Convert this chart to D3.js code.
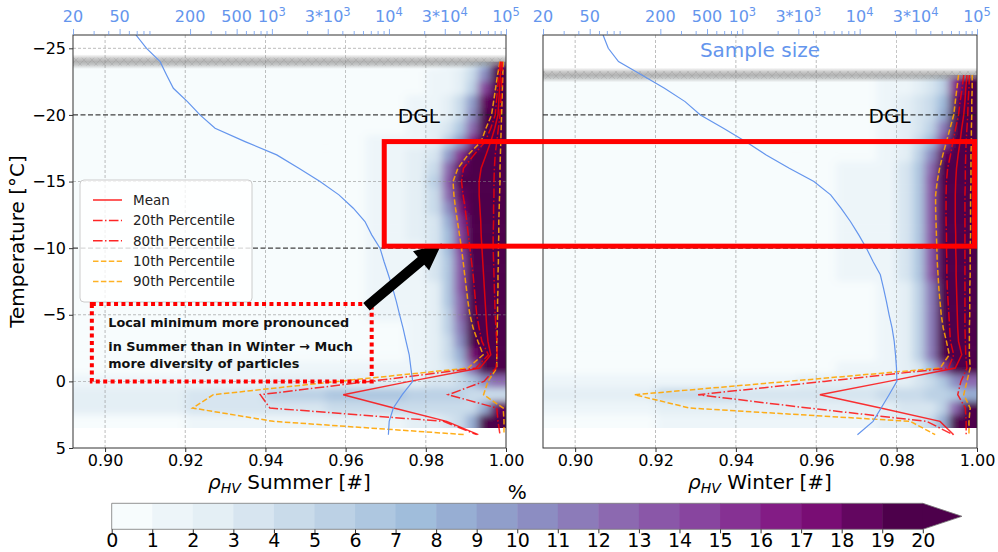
<!DOCTYPE html>
<html><head><meta charset="utf-8">
<script src="https://cdn.jsdelivr.net/npm/d3@7"></script>
<style>body{margin:0;background:#fff}svg{display:block}text{font-family:"DejaVu Sans",sans-serif}</style>
</head><body><svg id="c" width="998" height="552"></svg>
<script>
// ---------------- DATA ----------------
const summerT = [-24,-23,-22,-21,-20,-19,-18,-17,-16,-15,-14,-13,-12,-11,-10,-9,-8,-7,-6,-5,-4,-3,-2,-1,0,1,2,3,4];
const summerMean = [0.9988,0.9986,0.9984,0.9982,0.998,0.9972,0.9962,0.995,0.9938,0.9933,0.9933,0.9935,0.9937,0.9938,0.994,0.9942,0.9944,0.9946,0.9948,0.995,0.9952,0.9955,0.9962,0.9935,0.976,0.9594,0.972,0.9852,0.9931];
const summerP20 = [0.9986,0.9982,0.9979,0.9976,0.9973,0.9962,0.9948,0.992,0.9894,0.9889,0.9893,0.9898,0.9902,0.9906,0.991,0.9914,0.9918,0.9921,0.9924,0.9927,0.9933,0.994,0.9956,0.9925,0.966,0.9387,0.9411,0.9844,0.9927];
const summerP80 = [0.9991,0.999,0.9989,0.9987,0.9985,0.9981,0.9977,0.9973,0.9971,0.997,0.997,0.9969,0.9969,0.9968,0.9968,0.9969,0.997,0.9971,0.9972,0.9973,0.9975,0.9977,0.9978,0.9975,0.9945,0.9856,0.9977,0.998,0.9985];
const summerP10 = [0.9985,0.9979,0.9974,0.9969,0.9964,0.995,0.9938,0.9905,0.988,0.9868,0.987,0.9874,0.9879,0.9884,0.9889,0.9893,0.9897,0.9901,0.9905,0.991,0.9918,0.993,0.9943,0.9905,0.958,0.927,0.9218,0.942,0.990];
const summerP90 = [0.9993,0.9992,0.9991,0.999,0.9989,0.9988,0.9987,0.9986,0.9985,0.9985,0.9984,0.9983,0.9982,0.9982,0.9981,0.9981,0.998,0.998,0.9979,0.9979,0.9978,0.9977,0.9977,0.9977,0.9955,0.9944,0.9993,0.9995,0.9995];

const winterT = [-23,-22,-21,-20,-19,-18,-17,-16,-15,-14,-13,-12,-11,-10,-9,-8,-7,-6,-5,-4,-3,-2,-1,0,1,2,3,4];
const winterMean = [0.9975,0.9972,0.997,0.9967,0.9962,0.9958,0.9953,0.9949,0.9947,0.9946,0.9946,0.9946,0.9947,0.9947,0.9948,0.9948,0.9949,0.995,0.9951,0.9952,0.9954,0.9962,0.9946,0.978,0.9609,0.976,0.9908,0.9942];
const winterP20 = [0.9967,0.9963,0.9958,0.9954,0.9947,0.994,0.9934,0.9927,0.9924,0.9923,0.9923,0.9923,0.9924,0.9924,0.9925,0.9925,0.9926,0.9928,0.993,0.9932,0.9934,0.9942,0.9929,0.962,0.9306,0.958,0.9875,0.994];
const winterP80 = [0.9981,0.998,0.9978,0.9977,0.9975,0.9973,0.9972,0.9971,0.9971,0.997,0.997,0.997,0.997,0.997,0.997,0.997,0.997,0.997,0.997,0.997,0.9971,0.9972,0.9975,0.996,0.9952,0.9971,0.9973,0.9973];
const winterP10 = [0.9954,0.995,0.9946,0.9942,0.9933,0.9924,0.9915,0.9907,0.9901,0.9897,0.9897,0.9898,0.9899,0.99,0.9901,0.9903,0.9905,0.9908,0.9911,0.9916,0.9924,0.9931,0.9908,0.953,0.9148,0.9285,0.9834,0.9896];
const winterP90 = [0.9988,0.9988,0.9987,0.9987,0.9986,0.9986,0.9985,0.9985,0.9985,0.9984,0.9984,0.9984,0.9984,0.9983,0.9983,0.9983,0.9982,0.9982,0.9982,0.9981,0.9981,0.9981,0.9983,0.9975,0.9967,0.9983,0.998,0.998];

const sampleT = [-26,-25,-24,-23,-22,-21,-20,-19,-18,-17,-16,-15,-14,-13,-12,-11,-10,-9,-8,-7,-6,-5,-4,-3,-2,-1,0,1,2,3,4];
const summerN = [69,85,111,126,144,190,243,327,590,1100,1700,2578,3740,4960,6240,7125,8390,9075,9890,10750,11560,12340,13200,14000,14900,15400,15960,13000,10900,10050,9890];
const winterN = [65,72,88,139,217,325,439,690,1064,1597,2512,4075,5660,6930,8340,9820,11420,13000,15000,15960,16900,17820,18900,19700,20200,20600,20740,17820,15240,13000,9570];

// 2D histogram (% per cell): rows = temperature bins, columns = rhoHV bins
const rhoEdges = [0.892,0.92,0.94,0.955,0.965,0.975,0.98,0.984,0.987,0.99,0.993,0.996,1.0];
const summerHeatT = [-24,-23,-22,-21,-20,-19,-18,-17,-16,-15,-14,-13,-12,-11,-10,-9,-8,-7,-6,-5,-4,-3,-2,-1,0,1,2,3];
const summerHeat = [
 [0.5,0.5,0.5,0.5,0.5,0.5,0.8,1,1.5,3,7,18],
 [0.5,0.5,0.5,0.5,0.5,0.7,1,1.5,2,4,10,20],
 [0.5,0.5,0.5,0.5,0.5,0.8,1.2,1.8,2.5,5,14,22],
 [0.5,0.5,0.5,0.5,0.7,1,1.5,2.5,4,9,18,24],
 [0.5,0.5,0.5,0.5,0.7,1,1.5,2.5,4.5,10,20,25],
 [0.5,0.5,0.5,0.5,0.8,1.2,2,3,6,12,21,25],
 [0.5,0.5,0.5,0.6,1,1.5,2.5,5,9,16,22,24],
 [0.5,0.5,0.5,0.7,1.2,2,3.5,9,15,20,22,22],
 [0.5,0.5,0.6,0.8,1.5,2.5,4.5,12,18,21,22,22],
 [0.5,0.5,0.6,0.8,1.5,2.5,5,13,19,21,22,22],
 [0.5,0.5,0.6,0.8,1.5,2.5,4.5,12,18,21,22,22],
 [0.5,0.5,0.5,0.7,1.2,2.2,4,10,17,21,23,22],
 [0.5,0.5,0.5,0.7,1.2,2,3.5,8,15,21,24,22],
 [0.5,0.5,0.5,0.6,1,2,3.5,7,14,21,24,22],
 [0.5,0.5,0.5,0.6,1,1.8,3,7,14,21,24,22],
 [0.5,0.5,0.5,0.6,1,1.8,3,6.5,13,21,24,22],
 [0.5,0.5,0.5,0.6,1,1.8,3,6.5,13,21,24,22],
 [0.5,0.5,0.5,0.6,1,1.6,2.8,6,13,21,24,23],
 [0.5,0.5,0.5,0.6,1,1.6,2.8,6,12,21,24,23],
 [0.5,0.5,0.5,0.6,1,1.5,2.5,5.5,12,21,25,23],
 [0.5,0.5,0.5,0.6,0.9,1.5,2.5,5,11,20,25,24],
 [0.5,0.5,0.5,0.6,0.9,1.4,2.2,4.5,10,19,25,25],
 [0.5,0.5,0.5,0.6,0.9,1.3,2,4,8,17,25,26],
 [0.8,1,1,1.2,1.4,1.8,2.2,3.5,6,12,22,26],
 [1,1.5,2,2,2.5,2.5,3,3.5,4,6,10,12],
 [2.5,3.5,5,6,6,5.5,5,5,5,4.5,4,4],
 [2,3,3.5,4,4,4,4,4,4,4.5,8,18],
 [0.5,1,1,1.5,1.5,2,2.5,3,4,8,20,28]
];
const winterHeatT = [-23,-22,-21,-20,-19,-18,-17,-16,-15,-14,-13,-12,-11,-10,-9,-8,-7,-6,-5,-4,-3,-2,-1,0,1,2,3];
const winterHeat = [
 [0.5,0.5,0.5,0.5,0.6,1,1.5,2.5,3.5,5,15,24],
 [0.5,0.5,0.5,0.5,0.6,1,1.5,2.5,3.5,5,16,25],
 [0.5,0.5,0.5,0.5,0.7,1.2,2,3,4,7,18,25],
 [0.5,0.5,0.5,0.5,0.7,1.2,2,3,4.5,8,20,25],
 [0.5,0.5,0.5,0.5,0.8,1.4,2.2,3.5,5.5,11,22,24],
 [0.5,0.5,0.5,0.5,0.8,1.5,2.5,4,7,14,23,23],
 [0.5,0.5,0.5,0.5,0.9,1.6,2.8,5,10,18,24,22],
 [0.5,0.5,0.5,0.5,1,1.8,3,6,12,20,25,22],
 [0.5,0.5,0.5,0.5,1,1.8,3,6,13,21,25,22],
 [0.5,0.5,0.5,0.5,1,1.8,3,6,13,21,25,22],
 [0.5,0.5,0.5,0.5,1,1.8,3,6,13,21,25,22],
 [0.5,0.5,0.5,0.5,1,1.8,3,6,13,21,25,22],
 [0.5,0.5,0.5,0.5,1,1.8,3,6,13,21,25,22],
 [0.5,0.5,0.5,0.5,1,1.8,3,6,13,21,25,22],
 [0.5,0.5,0.5,0.5,1,1.8,3,6,13,21,25,22],
 [0.5,0.5,0.5,0.5,1,1.8,3,6,13,21,25,22],
 [0.5,0.5,0.5,0.5,0.9,1.6,2.6,5,11,20,25,22],
 [0.5,0.5,0.5,0.5,0.9,1.6,2.6,5,11,20,25,22],
 [0.5,0.5,0.5,0.5,0.9,1.6,2.6,5,11,20,25,22],
 [0.5,0.5,0.5,0.5,0.9,1.6,2.6,5,11,20,25,22],
 [0.5,0.5,0.5,0.5,0.9,1.6,2.6,5,11,20,25,22],
 [0.5,0.5,0.5,0.5,0.9,1.6,2.6,5,11,20,25,22],
 [0.5,0.6,0.8,0.9,1.1,1.5,2.2,3.5,7,14,24,25],
 [1,1.5,1.5,2,2,2.5,2.5,3,4,6,10,12],
 [2.5,4,3.5,3.5,3.5,4,4,4.5,5,5.5,6,8],
 [1,2,2,2,2,2.5,3,3,3.5,5,12,20],
 [0.5,1,1,1.5,1.5,2,2.5,3,4,8,22,28]
];

const rhoTicks = [0.90,0.92,0.94,0.96,0.98,1.00];
const tempTicks = [-25,-20,-15,-10,-5,0,5];
const nMajor = [20,50,200,500,1000,3000,10000,30000,100000];
const nMajorBase = ["20","50","200","500","10","3*10","10","3*10","10"];
const nMajorSup = ["","","","","3","3","4","4","5"];
const nMinor = [30,40,60,70,80,90,300,400,600,700,800,900,2000,4000,5000,6000,7000,8000,9000,20000,40000,50000,60000,70000,80000,90000];
const cbTicks = [0,1,2,3,4,5,6,7,8,9,10,11,12,13,14,15,16,17,18,19,20];
const dglTemps = [-20,-10];
const legendLabels = ["Mean","20th Percentile","80th Percentile","10th Percentile","90th Percentile"];
const noteLines = ["Local minimum more pronounced","in Summer than in Winter \u2192 Much","more diversity of particles"];

// ---------------- SETUP ----------------
const svg = d3.select("#c");
svg.append("rect").attr("width",998).attr("height",552).attr("fill","#fff");
const defs = svg.append("defs");
defs.append("filter").attr("id","blur").attr("x","-5%").attr("y","-5%").attr("width","110%").attr("height","110%")
  .append("feGaussianBlur").attr("stdDeviation","4.5 3.5");
const grad = defs.append("linearGradient").attr("id","band").attr("x1",0).attr("y1",0).attr("x2",0).attr("y2",1);
[[0,0],[0.3,0.55],[0.5,0.75],[0.7,0.55],[1,0]].forEach(s=>grad.append("stop").attr("offset",s[0]).attr("stop-color","#9a9a9a").attr("stop-opacity",s[1]));
const hatch = defs.append("pattern").attr("id","hatch").attr("width",8).attr("height",8).attr("patternUnits","userSpaceOnUse");
hatch.append("path").attr("d","M0,0L8,8M8,0L0,8").attr("stroke","#888").attr("stroke-width",0.7);

const bupu = ["#f7fcfd","#e0ecf4","#bfd3e6","#9ebcda","#8c96c6","#8c6bb1","#88419d","#810f7c","#4d004b"];
const cmap = d3.piecewise(d3.interpolateRgb, bupu);
const colorOf = v => v >= 20 ? cmap(1) : cmap(Math.max(0, Math.floor(v)) / 19);

const y = d3.scaleLinear().domain([-26,5]).range([35,448]);
const RED = "#ff0000", ORANGE = "#ffa500", BLUE = "cornflowerblue";
const styles = {
  mean:{c:RED,d:null}, p20:{c:RED,d:"9.6,2.4,1.5,2.4"}, p80:{c:RED,d:"9.6,2.4,1.5,2.4"},
  p10:{c:ORANGE,d:"5.5,2.4"}, p90:{c:ORANGE,d:"5.5,2.4"}
};

const panels = [
  {x0:73,x1:506,name:"Summer",T:summerT,mean:summerMean,p20:summerP20,p80:summerP80,p10:summerP10,p90:summerP90,heatT:summerHeatT,heat:summerHeat,n:summerN,top:-24,hgrid:true},
  {x0:543,x1:977,name:"Winter",T:winterT,mean:winterMean,p20:winterP20,p80:winterP80,p10:winterP10,p90:winterP90,heatT:winterHeatT,heat:winterHeat,n:winterN,top:-23,hgrid:false}
];

panels.forEach((p,i)=>{
  const x = d3.scaleLinear().domain([0.892,1.0]).range([p.x0,p.x1]);
  const xn = d3.scaleLog().domain([20,1e5]).range([p.x0,p.x1]);
  p.x = x;
  const g = svg.append("g");
  defs.append("clipPath").attr("id","pc"+i).append("rect")
    .attr("x",p.x0).attr("y",y(-26)).attr("width",p.x1-p.x0).attr("height",y(5)-y(-26));
  defs.append("clipPath").attr("id","hc"+i).append("rect")
    .attr("x",p.x0).attr("y",y(p.top)).attr("width",p.x1-p.x0).attr("height",y(3.5)-y(p.top));
  // heatmap
  const hg = g.append("g").attr("clip-path",`url(#hc${i})`).append("g").attr("filter","url(#blur)");
  const nc = rhoEdges.length-1;
  p.heatT.forEach((t,r)=>{
    p.heat[r].forEach((v,c)=>{
      let xa = x(rhoEdges[c]), xb = x(rhoEdges[c+1]);
      if(c===0) xa -= 20; if(c===nc-1) xb += 20;
      let ya = y(t-0.5), yb = y(t+0.5);
      if(r===0) ya -= 20; if(r===p.heatT.length-1) yb += 20;
      hg.append("rect").attr("x",xa).attr("y",ya).attr("width",xb-xa+0.6).attr("height",yb-ya+0.6).attr("fill",colorOf(v));
    });
  });
  // grey band at top of data
  const bg = g.append("g").attr("clip-path",`url(#pc${i})`);
  bg.append("rect").attr("x",p.x0).attr("width",p.x1-p.x0).attr("y",y(p.top-0.55)).attr("height",y(p.top+0.55)-y(p.top-0.55)).attr("fill","url(#band)");
  bg.append("rect").attr("x",p.x0).attr("width",p.x1-p.x0).attr("y",y(p.top-0.3)).attr("height",y(p.top+0.3)-y(p.top-0.3)).attr("fill","url(#hatch)").attr("opacity",0.35);
  // grid
  const gg = g.append("g");
  rhoTicks.slice(0,5).forEach(v=>gg.append("line").attr("x1",x(v)).attr("x2",x(v)).attr("y1",y(-26)).attr("y2",y(5))
    .attr("stroke","#888").attr("stroke-width",0.7).attr("stroke-dasharray","3,2").attr("opacity",0.8));
  if(p.hgrid) [-25,-15,-5,0].forEach(v=>gg.append("line").attr("x1",p.x0).attr("x2",p.x1).attr("y1",y(v)).attr("y2",y(v))
    .attr("stroke","#888").attr("stroke-width",0.7).attr("stroke-dasharray","3,2").attr("opacity",0.8));
  dglTemps.forEach(v=>gg.append("line").attr("x1",p.x0).attr("x2",p.x1).attr("y1",y(v)).attr("y2",y(v))
    .attr("stroke","#222").attr("stroke-width",1.2).attr("stroke-dasharray","5,2.5").attr("opacity",0.85));
  g.append("text").attr("x",x(0.973)).attr("y",y(-20)+8).attr("font-size",20).attr("fill","#000").text("DGL");
  // percentile lines
  const lg = g.append("g").attr("clip-path",`url(#pc${i})`);
  ["p10","p90","p20","p80","mean"].forEach(k=>{
    const line = d3.line().x(d=>x(d[1])).y(d=>y(d[0]));
    lg.append("path").attr("d",line(p.T.map((t,j)=>[t,p[k][j]])))
      .attr("fill","none").attr("stroke",styles[k].c).attr("stroke-width",1.5)
      .attr("stroke-dasharray",styles[k].d).attr("opacity",k.startsWith("p1")||k.startsWith("p9")?0.9:0.8);
  });
  // sample size
  const nl = d3.line().x(d=>xn(d[1])).y(d=>y(d[0]));
  lg.append("path").attr("d",nl(sampleT.map((t,j)=>[t,p.n[j]]))).attr("fill","none").attr("stroke",BLUE).attr("stroke-width",1.2);
  // frame
  g.append("rect").attr("x",p.x0).attr("y",y(-26)).attr("width",p.x1-p.x0).attr("height",y(5)-y(-26))
    .attr("fill","none").attr("stroke","#333").attr("stroke-width",1);
  // bottom axis
  const ba = g.append("g").attr("transform",`translate(0,${y(5)})`)
    .call(d3.axisBottom(x).tickValues(rhoTicks).tickSize(4).tickPadding(3).tickFormat(d3.format(".2f")));
  ba.select(".domain").remove();
  ba.selectAll("text").attr("font-size",16).attr("font-family","DejaVu Sans").attr("fill","#000");
  ba.selectAll("line").attr("stroke","#333");
  // top axis (sample size, log)
  const ta = g.append("g").attr("transform",`translate(0,${y(-26)})`)
    .call(d3.axisTop(xn).tickValues(nMajor).tickSize(6).tickFormat(""));
  const tm = g.append("g").attr("transform",`translate(0,${y(-26)})`)
    .call(d3.axisTop(xn).tickValues(nMinor).tickSize(4).tickFormat(""));
  [ta,tm].forEach(a=>{a.select(".domain").remove(); a.selectAll("line").attr("stroke",BLUE).attr("opacity",0.75);});
  nMajor.forEach((v,j)=>{
    const t = g.append("text").attr("x",xn(v)).attr("y",22).attr("text-anchor","middle").attr("font-size",16).attr("fill",BLUE);
    t.append("tspan").text(nMajorBase[j]);
    if(nMajorSup[j]) t.append("tspan").attr("font-size",11.5).attr("dy",-6.5).text(nMajorSup[j]);
  });
  // x title
  const xt = g.append("text").attr("x",(p.x0+p.x1)/2).attr("y",489).attr("text-anchor","middle").attr("font-size",20).attr("fill","#000");
  xt.append("tspan").attr("font-style","italic").text("\u03C1");
  xt.append("tspan").attr("font-style","italic").attr("font-size",14).attr("dy",4).text("HV");
  xt.append("tspan").attr("dy",-4).text(" "+p.name+" [#]");
});

// left axis
const la = svg.append("g").attr("transform",`translate(${panels[0].x0},0)`)
  .call(d3.axisLeft(y).tickValues(tempTicks).tickSize(4).tickPadding(3));
la.select(".domain").remove();
la.selectAll("text").attr("font-size",16).attr("font-family","DejaVu Sans").attr("fill","#000");
la.selectAll("line").attr("stroke","#333");
svg.append("text").attr("transform",`translate(24,${(y(-26)+y(5))/2}) rotate(-90)`).attr("text-anchor","middle")
  .attr("font-size",20).text("Temperature [\u00B0C]");

// "Sample size"
svg.append("text").attr("x",(panels[1].x0+panels[1].x1)/2).attr("y",57).attr("text-anchor","middle")
  .attr("font-size",20).attr("fill",BLUE).text("Sample size");

// legend
const xL = panels[0].x, xR = panels[1].x;
const leg = svg.append("g");
leg.append("rect").attr("x",80).attr("y",180).attr("width",172).attr("height",122).attr("rx",4)
  .attr("fill","#fff").attr("fill-opacity",0.8).attr("stroke","#ccc");
["mean","p20","p80","p10","p90"].forEach((k,j)=>{
  const cy = 200 + j*20.4;
  leg.append("line").attr("x1",93).attr("x2",122).attr("y1",cy).attr("y2",cy)
    .attr("stroke",styles[k].c).attr("stroke-width",1.5).attr("stroke-dasharray",styles[k].d).attr("opacity",0.85);
  leg.append("text").attr("x",133).attr("y",cy+4.8).attr("font-size",13.5).attr("fill","#222").text(legendLabels[j]);
});

// annotation box
svg.append("rect").attr("x",xL(0.8967)).attr("y",y(-5.8)).attr("width",xL(0.9665)-xL(0.8967)).attr("height",y(0)-y(-5.8))
  .attr("fill","none").attr("stroke",RED).attr("stroke-width",4).attr("stroke-dasharray","4,3.4");
[-4.1,-2.3,-0.98].forEach((t,j)=>{
  svg.append("text").attr("x",xL(0.9008)).attr("y",y(t)).attr("font-family","Liberation Sans, Arial, sans-serif")
    .attr("font-weight","bold").attr("font-size",12.8).attr("fill","#111").text(noteLines[j]);
});

// arrow
(function(){
  const tx = xL(0.9652), ty = y(-5.6), hx = xL(0.98397), hy = y(-10.35);
  const dx = hx-tx, dy = hy-ty, L = Math.hypot(dx,dy), ux = dx/L, uy = dy/L, nx = -uy, ny = ux;
  const hl = 27, hh = 12.5, sh = 5;
  const bx = tx+ux*(L-hl), by = ty+uy*(L-hl);
  const pts = [[tx+nx*sh,ty+ny*sh],[bx+nx*sh,by+ny*sh],[bx+nx*hh,by+ny*hh],[hx,hy],[bx-nx*hh,by-ny*hh],[bx-nx*sh,by-ny*sh],[tx-nx*sh,ty-ny*sh]];
  svg.append("polygon").attr("points",pts.map(p=>p.join(",")).join(" ")).attr("fill","#000");
})();

// red highlight rectangle
svg.append("rect").attr("x",xL(0.96963)).attr("y",y(-18)).attr("width",xR(0.99938)-xL(0.96963)).attr("height",y(-10.15)-y(-18))
  .attr("fill","none").attr("stroke",RED).attr("stroke-width",5);

// colorbar
const cbX = d3.scaleLinear().domain([0,20]).range([111.7,922.8]);
const cbTop = 503.3, cbBot = 529.3, cbTip = 962;
const cb = svg.append("g");
cbTicks.slice(0,20).forEach(v=>cb.append("rect").attr("x",cbX(v)).attr("y",cbTop).attr("width",cbX(v+1)-cbX(v)+0.5).attr("height",cbBot-cbTop).attr("fill",colorOf(v+0.5)));
cb.append("polygon").attr("points",`${cbX(20)},${cbTop} ${cbTip},${(cbTop+cbBot)/2} ${cbX(20)},${cbBot}`).attr("fill",colorOf(20));
cb.append("path").attr("d",`M${cbX(0)},${cbTop}H${cbX(20)}L${cbTip},${(cbTop+cbBot)/2}L${cbX(20)},${cbBot}H${cbX(0)}Z`)
  .attr("fill","none").attr("stroke","#777").attr("stroke-width",0.8);
const cba = cb.append("g").attr("transform",`translate(0,${cbBot})`)
  .call(d3.axisBottom(cbX).tickValues(cbTicks).tickSize(4).tickPadding(2).tickFormat(d3.format("d")));
cba.select(".domain").remove();
cba.selectAll("text").attr("font-size",19).attr("dy","0.6em").attr("font-family","DejaVu Sans").attr("fill","#000");
cba.selectAll("line").attr("stroke","#333");
svg.append("text").attr("x",cbX(10)).attr("y",499).attr("text-anchor","middle").attr("font-size",20).text("%");
</script></body></html>
